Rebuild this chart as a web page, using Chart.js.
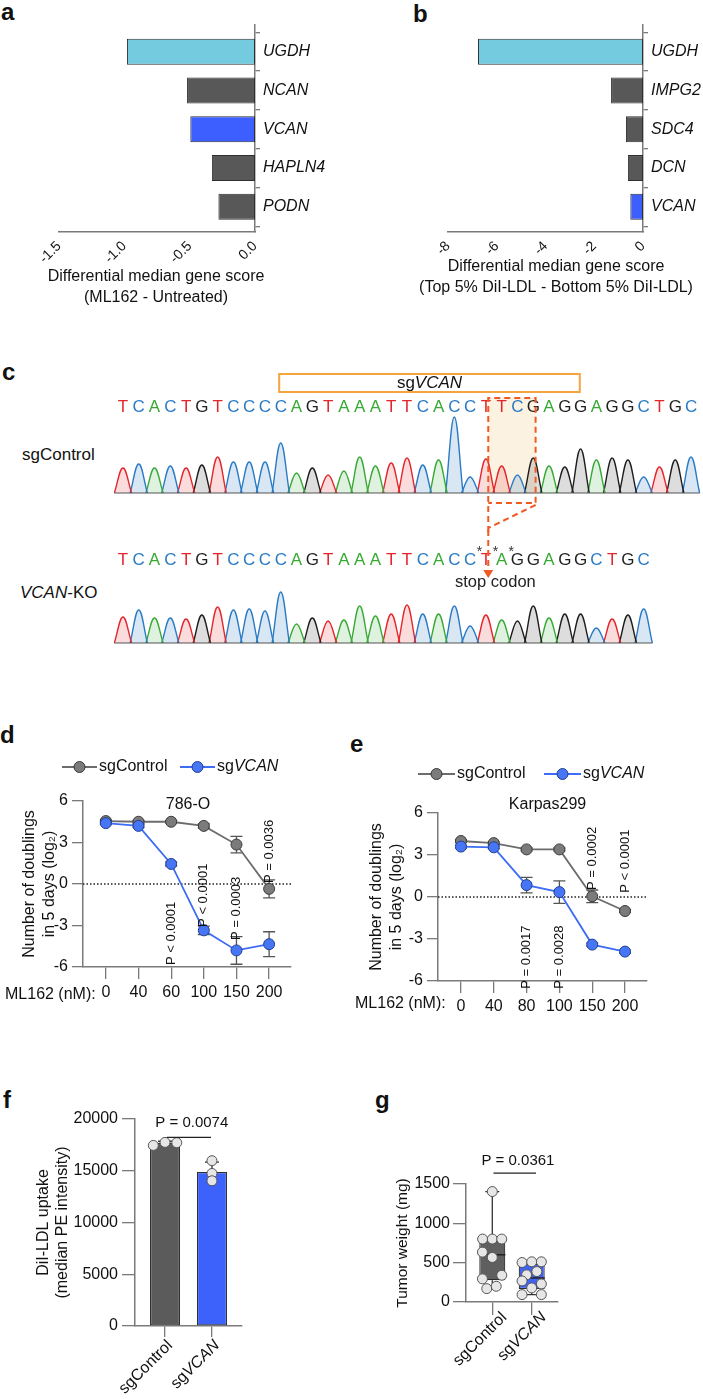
<!DOCTYPE html>
<html>
<head>
<meta charset="utf-8">
<title>VCAN figure</title>
<script src="https://cdn.jsdelivr.net/npm/chart.js@4.4.1/dist/chart.umd.min.js"></script>
<style>
  html, body { margin: 0; padding: 0; background: #fff; }
  body { position: relative; width: 703px; height: 1399px; overflow: hidden; font-family: "Liberation Sans", Arial, sans-serif; color: #111; }
  canvas { position: absolute; }
  .tag { position: absolute; font-weight: bold; font-size: 24px; line-height: 24px; }
  .side { position: absolute; font-size: 17px; line-height: 20px; white-space: nowrap; }
</style>
</head>
<body>
<div class="tag" style="left:1px;top:0px">a</div>
<div class="tag" style="left:413px;top:2px">b</div>
<div class="tag" style="left:2px;top:360px">c</div>
<div class="tag" style="left:0px;top:723px">d</div>
<div class="tag" style="left:350px;top:732px">e</div>
<div class="tag" style="left:3px;top:1088px">f</div>
<div class="tag" style="left:375px;top:1088px">g</div>
<div class="side" style="left:22px;top:445px">sgControl</div>
<div class="side" style="left:20px;top:583px"><i>VCAN</i>-KO</div>

<canvas id="chartA" width="350" height="310" style="left:0;top:0"></canvas>
<canvas id="chartB" width="353" height="310" style="left:350px;top:0"></canvas>
<canvas id="chartC1" width="603" height="172" style="left:100px;top:360px"></canvas>
<canvas id="chartC2" width="603" height="120" style="left:100px;top:530px"></canvas>
<canvas id="chartD" width="350" height="280" style="left:0;top:740px"></canvas>
<canvas id="chartE" width="353" height="280" style="left:350px;top:740px"></canvas>
<canvas id="chartF" width="350" height="319" style="left:0;top:1080px"></canvas>
<canvas id="chartG" width="353" height="319" style="left:350px;top:1080px"></canvas>

<script>
const genesA = ["UGDH", "NCAN", "VCAN", "HAPLN4", "PODN"];
const scoreA = [-0.98, -0.52, -0.495, -0.33, -0.28];
const genesB = ["UGDH", "IMPG2", "SDC4", "DCN", "VCAN"];
const scoreB = [-6.77, -1.31, -0.70, -0.62, -0.52];

const seqCtrl = "TCACTGTCCCCAGTAAATTCACCTTCGAGGAGGCTGC";
const peakCtrl = [25, 29, 25, 27, 25, 28, 36, 31, 31, 31, 50, 20, 25, 18, 22, 36, 27, 30, 35, 28,
                  33, 76, 16, 34, 27, 18, 35, 27, 26, 44, 33, 35, 33, 16, 26, 33, 36];
const seqKO = "TCACTGTCCCCAGTAAATTCACCTAGGAGGCTGC";
const peakKO = [26, 33, 25, 25, 24, 28, 36, 33, 34, 32, 51, 19, 25, 22, 23, 37, 27, 29, 38, 29,
                29, 37, 17, 28, 23, 22, 37, 25, 29, 29, 15, 24, 28, 34];

const dosesD = ["0", "40", "60", "100", "150", "200"];
const ctrlD = [4.55, 4.5, 4.5, 4.2, 2.85, -0.35];
const ctrlSdD = [0.1, 0.1, 0.1, 0.15, 0.6, 0.65];
const vcanD = [4.4, 4.2, 1.45, -3.35, -4.8, -4.35];
const vcanSdD = [0.1, 0.1, 0.15, 0.3, 1.0, 0.9];
const pTextD = ["", "", "P < 0.0001", "P < 0.0001", "P = 0.0003", "P = 0.0036"];

const dosesE = ["0", "40", "80", "100", "150", "200"];
const ctrlE = [4.0, 3.85, 3.4, 3.4, 0.05, -1.0];
const ctrlSdE = [0.1, 0.1, 0.1, 0.1, 0.45, 0.1];
const vcanE = [3.6, 3.55, 0.85, 0.35, -3.4, -3.9];
const vcanSdE = [0.1, 0.1, 0.55, 0.8, 0.1, 0.1];
const pTextE = ["", "", "P = 0.0017", "P = 0.0028", "P = 0.0002", "P < 0.0001"];

const groups = ["sgControl", "sgVCAN"];
const uptakeMean = [17700, 14870];
const uptakeSd = [150, 970];
const uptakeCtrl = [17450, 17740, 17710];
const uptakeVcan = [15970, 14740, 14030];
const pUptake = "P = 0.0074";

const weightCtrl = [1404, 800, 800, 800, 634, 566, 340, 294, 170, 200];
const weightVcan = [502, 511, 511, 387, 345, 268, 230, 179, 94, 94];
const weightBox = [[170, 277, 600, 805, 1404], [94, 166, 306, 485, 511]];
const pWeight = "P = 0.0361";

const FONT = '"Liberation Sans", Arial, Helvetica, sans-serif';
const AXIS = "#7a7a7a";
Chart.defaults.font.family = FONT;
Chart.defaults.font.size = 16;
Chart.defaults.color = "#111";
Chart.defaults.animation = false;
Chart.defaults.responsive = false;
Chart.defaults.events = [];
Chart.defaults.plugins.legend.display = false;
Chart.defaults.plugins.tooltip.enabled = false;

function font(size, italic) {
  return (italic ? "italic " : "") + size + "px " + FONT;
}
function parts(label) {
  if (label.startsWith("sg") && label !== "sgControl") return [["sg", false], [label.slice(2), true]];
  return [[label, false]];
}
function drawParts(ctx, ps, x, y, size, align) {
  let w = 0;
  ps.forEach(p => { ctx.font = font(size, p[1]); w += ctx.measureText(p[0]).width; });
  let cx = align === "center" ? x - w / 2 : align === "right" ? x - w : x;
  ctx.textAlign = "left";
  ps.forEach(p => { ctx.font = font(size, p[1]); ctx.fillText(p[0], cx, y); cx += ctx.measureText(p[0]).width; });
}
const border = { color: AXIS, width: 1.5 };

// a, b
function geneChart(id, genes, scores, fills, xMin, xStep, fmt, title, titleX, titleDy, padLeft, yW) {
  return new Chart(document.getElementById(id), {
    type: "bar",
    data: { datasets: [{
      data: scores.map((v, i) => ({ x: v, y: i })),
      backgroundColor: fills, borderColor: "#2f2f2f", borderWidth: 1, borderSkipped: false,
      barPercentage: 0.67, categoryPercentage: 1
    }] },
    options: {
      indexAxis: "y",
      layout: { padding: { left: padLeft, top: 25, right: 0, bottom: 0 } },
      scales: {
        x: {
          type: "linear", min: xMin, max: 0,
          ticks: { stepSize: xStep, callback: fmt, minRotation: 45, maxRotation: 45, padding: 6, font: { size: 14 } },
          grid: { display: false, drawTicks: false }, border,
          afterFit: s => { s.height = 78; }
        },
        y: {
          type: "linear", position: "right", reverse: true, min: -0.69, max: 4.65, offset: false,
          ticks: { stepSize: 1, includeBounds: false, autoSkip: false, callback: v => genes[v], font: { style: "italic", size: 16 }, padding: 3 },
          grid: { drawOnChartArea: false, tickLength: 5, color: AXIS, lineWidth: 1.3 }, border,
          afterFit: s => { s.width = yW; }
        }
      }
    },
    plugins: [{
      id: "geneTitle",
      afterDraw(c) {
        const { ctx, chartArea: a } = c;
        ctx.save();
        ctx.fillStyle = "#111"; ctx.font = font(16); ctx.textAlign = "center"; ctx.textBaseline = "middle";
        title.forEach((t, k) => ctx.fillText(t, titleX, a.bottom + titleDy[k]));
        ctx.restore();
      }
    }]
  });
}
const cyan = "#74cbe0", grey = "#585858", blue = "#3d5fff";
geneChart("chartA", genesA, scoreA, [cyan, grey, blue, grey, grey], -1.5, 0.5, v => v.toFixed(1),
  ["Differential median gene score", "(ML162 - Untreated)"], 156, [45, 66], 59, 95);
geneChart("chartB", genesB, scoreB, [cyan, grey, grey, grey, blue], -8, 2, v => String(v),
  ["Differential median gene score", "(Top 5% DiI-LDL - Bottom 5% DiI-LDL)"], 206, [35, 56], 98, 60);

// c
const BASE_LINE = { T: "#e3262b", C: "#2a7bc4", A: "#38a935", G: "#1e1e1e" };
const BASE_FILL = { T: "rgba(227,38,43,0.16)", C: "rgba(42,123,196,0.18)", A: "rgba(56,169,53,0.16)", G: "rgba(30,30,30,0.15)" };
const ORANGE = "#f05a22";

function chromChart(id, seq, peaks, pad, letterDy, before, after) {
  const datasets = seq.split("").map((b, i) => ({
    data: [{ x: i - 0.55, y: 0 }, { x: i, y: peaks[i] }, { x: i + 0.55, y: 0 }],
    borderColor: BASE_LINE[b], backgroundColor: BASE_FILL[b],
    borderWidth: 1.4, pointRadius: 0, fill: "origin", tension: 0.4
  }));
  return new Chart(document.getElementById(id), {
    type: "line",
    data: { datasets },
    options: {
      layout: { padding: pad },
      scales: {
        x: { type: "linear", display: false, min: -0.6, max: 36.6 },
        y: { display: false, min: 0, max: 80 }
      }
    },
    plugins: [{
      id: "seq",
      beforeDatasetsDraw(c) { if (before) before(c); },
      afterDatasetsDraw(c) {
        const { ctx, chartArea: a, scales: { x, y } } = c;
        ctx.save();
        ctx.strokeStyle = "#555"; ctx.lineWidth = 1.2;
        ctx.beginPath();
        ctx.moveTo(x.getPixelForValue(-0.55), y.getPixelForValue(0));
        ctx.lineTo(x.getPixelForValue(seq.length - 0.45), y.getPixelForValue(0));
        ctx.stroke();
        ctx.font = font(17); ctx.textAlign = "center"; ctx.textBaseline = "middle";
        seq.split("").forEach((b, i) => {
          ctx.fillStyle = BASE_LINE[b];
          ctx.fillText(b, x.getPixelForValue(i), a.top + letterDy);
        });
        ctx.restore();
        if (after) after(c);
      }
    }]
  });
}

chromChart("chartC1", seqCtrl, peakCtrl, { left: 13.5, right: 2.5, top: 53, bottom: 39 }, -6,
  c => {
    const { ctx, scales: { x, y } } = c;
    const xl = x.getPixelForValue(23.15), xr = x.getPixelForValue(26.15);
    ctx.save();
    ctx.fillStyle = "#fcf2e2";
    ctx.fillRect(xl, 38, xr - xl, y.getPixelForValue(0) - 38);
    ctx.restore();
  },
  c => {
    const { ctx, scales: { x } } = c;
    const xl = x.getPixelForValue(23.15), xr = x.getPixelForValue(26.15);
    const b1 = x.getPixelForValue(9.9), b2 = x.getPixelForValue(28.95);
    ctx.save();
    ctx.strokeStyle = "#f4a540"; ctx.lineWidth = 2;
    ctx.strokeRect(b1, 14, b2 - b1, 18);
    ctx.fillStyle = "#111"; ctx.textBaseline = "middle";
    drawParts(ctx, parts("sgVCAN"), (b1 + b2) / 2, 23.5, 17, "center");
    ctx.strokeStyle = ORANGE; ctx.lineWidth = 2; ctx.setLineDash([6, 4]);
    ctx.beginPath();
    ctx.moveTo(xl, c.height); ctx.lineTo(xl, 38); ctx.lineTo(xr, 38); ctx.lineTo(xr, 143); ctx.lineTo(xl, 143);
    ctx.moveTo(xr, 145); ctx.lineTo(xl, 168);
    ctx.stroke();
    ctx.restore();
  });

chromChart("chartC2", seqKO, peakKO, { left: 13.5, right: 2.5, top: 33, bottom: 7 }, -3, null,
  c => {
    const { ctx, chartArea: a, scales: { x } } = c;
    const xl = x.getPixelForValue(23.15);
    ctx.save();
    ctx.fillStyle = "#333"; ctx.font = font(14); ctx.textAlign = "center"; ctx.textBaseline = "alphabetic";
    [23, 24, 25].forEach(i => ctx.fillText("*", x.getPixelForValue(i - 0.4), a.top - 7));
    ctx.strokeStyle = ORANGE; ctx.lineWidth = 2; ctx.setLineDash([6, 4]);
    ctx.beginPath(); ctx.moveTo(xl, 0); ctx.lineTo(xl, a.top + 8); ctx.stroke();
    ctx.setLineDash([]); ctx.fillStyle = ORANGE;
    ctx.beginPath(); ctx.moveTo(xl - 5, a.top + 7); ctx.lineTo(xl + 5, a.top + 7); ctx.lineTo(xl, a.top + 15); ctx.closePath(); ctx.fill();
    ctx.fillStyle = "#222"; ctx.font = font(16.5); ctx.textBaseline = "middle";
    ctx.fillText("stop codon", x.getPixelForValue(23.6), a.top + 19);
    ctx.restore();
  });

// d, e
function growthDecor(cfg) {
  return {
    id: "growthDecor",
    beforeDatasetsDraw(c) {
      const { ctx, chartArea: a, scales: { x, y } } = c;
      ctx.save();
      ctx.strokeStyle = "#222"; ctx.lineWidth = 1.3; ctx.setLineDash([1.5, 2]);
      const y0 = y.getPixelForValue(0);
      ctx.beginPath(); ctx.moveTo(a.left, y0); ctx.lineTo(a.right, y0); ctx.stroke();
      ctx.setLineDash([]); ctx.strokeStyle = "#555"; ctx.lineWidth = 1.3;
      c.data.datasets.forEach(ds => ds.data.forEach((p, i) => {
        const px = x.getPixelForValue(p.x);
        const t = y.getPixelForValue(p.y + ds.sd[i]), b = y.getPixelForValue(p.y - ds.sd[i]);
        ctx.beginPath();
        ctx.moveTo(px, t); ctx.lineTo(px, b);
        ctx.moveTo(px - 6, t); ctx.lineTo(px + 6, t);
        ctx.moveTo(px - 6, b); ctx.lineTo(px + 6, b);
        ctx.stroke();
      }));
      ctx.restore();
    },
    afterDatasetsDraw(c) {
      const { ctx, chartArea: a, scales: { x, y } } = c;
      ctx.save();
      ctx.fillStyle = "#111"; ctx.textBaseline = "middle";
      ctx.font = font(16); ctx.textAlign = "center";
      ctx.fillText(cfg.title, (a.left + a.right) / 2 + cfg.titleDx, a.top + cfg.titleDy);
      c.data.datasets.forEach((ds, k) => {
        const lx = a.left + cfg.legendX[k], ly = a.top + cfg.legendDy;
        ctx.strokeStyle = ds.borderColor; ctx.lineWidth = 1.8;
        ctx.beginPath(); ctx.moveTo(lx, ly); ctx.lineTo(lx + cfg.legendLen, ly); ctx.stroke();
        ctx.beginPath(); ctx.arc(lx + cfg.legendLen / 2, ly, 5.5, 0, Math.PI * 2);
        ctx.fillStyle = ds.pointBackgroundColor; ctx.fill();
        ctx.strokeStyle = ds.pointBorderColor; ctx.lineWidth = 1; ctx.stroke();
        ctx.fillStyle = "#111";
        drawParts(ctx, parts(ds.label), lx + cfg.legendLen + 2, ly, 16, "left");
      });
      ctx.font = font(16); ctx.textAlign = "left";
      ctx.fillText("ML162 (nM):", 5, a.bottom + cfg.mlDy);
      ctx.font = font(13);
      cfg.pText.forEach((t, i) => {
        if (!t) return;
        ctx.save();
        ctx.translate(x.getPixelForValue(i), y.getPixelForValue(cfg.pStart[i]));
        ctx.rotate(-Math.PI / 2);
        ctx.textAlign = "left"; ctx.fillText(t, 0, 0);
        ctx.restore();
      });
      ctx.restore();
    }
  };
}

function growthChart(id, doses, ctrl, ctrlSd, vcan, vcanSd, cfg) {
  return new Chart(document.getElementById(id), {
    type: "line",
    data: { datasets: [
      { label: "sgControl", data: ctrl.map((v, i) => ({ x: i, y: v })), sd: ctrlSd,
        borderColor: "#6c6c6c", pointBackgroundColor: "#7b7b7b", pointBorderColor: "#3a3a3a",
        borderWidth: 1.8, pointRadius: 5.5, pointBorderWidth: 1, order: 2 },
      { label: "sgVCAN", data: vcan.map((v, i) => ({ x: i, y: v })), sd: vcanSd,
        borderColor: "#3d6cf5", pointBackgroundColor: "#4676f6", pointBorderColor: "#23408f",
        borderWidth: 1.8, pointRadius: 5.5, pointBorderWidth: 1, order: 1 }
    ] },
    options: {
      layout: { padding: { left: 0, top: cfg.top, right: cfg.right, bottom: 0 } },
      scales: {
        x: {
          type: "linear", min: -0.7, max: 5.67,
          ticks: { stepSize: 1, includeBounds: false, autoSkip: false, maxRotation: 0, callback: v => doses[v], padding: 4 },
          grid: { drawOnChartArea: false, tickLength: 12, color: AXIS, lineWidth: 1.3 }, border,
          afterFit: s => { s.height = cfg.xh; }
        },
        y: {
          min: -6, max: 6,
          ticks: { stepSize: 3, padding: 4 },
          grid: { drawOnChartArea: false, tickLength: 11, color: AXIS, lineWidth: 1.3 }, border,
          title: { display: true, text: ["Number of doublings", "in 5 days (log\u2082)"], padding: { top: cfg.titlePad } },
          afterFit: s => { s.width = cfg.yw; }
        }
      }
    },
    plugins: [growthDecor(cfg)]
  });
}

growthChart("chartD", dosesD, ctrlD, ctrlSdD, vcanD, vcanSdD, {
  top: 61, right: 59, xh: 53, yw: 83, titlePad: 20.4,
  title: "786-O", titleDx: 1, titleDy: 4,
  legendX: [-21, 97], legendLen: 35, legendDy: -34, mlDy: 28,
  pText: pTextD, pStart: [0, 0, -5.86, -3.1, -4.05, 0.07]
});
growthChart("chartE", dosesE, ctrlE, ctrlSdE, vcanE, vcanSdE, {
  top: 73, right: 56, xh: 39, yw: 88, titlePad: 17.4,
  title: "Karpas299", titleDx: 5, titleDy: -8,
  legendX: [-20, 106], legendLen: 37, legendDy: -39, mlDy: 23,
  pText: pTextE, pStart: [0, 0, -6.55, -6.55, 0.5, 0.3]
});

// f
const jitterF = [[-0.25, 0, 0.25], [0, 0, 0]];
new Chart(document.getElementById("chartF"), {
  type: "bar",
  data: { datasets: [
    { type: "bar", data: uptakeMean.map((v, i) => ({ x: i, y: v })),
      backgroundColor: ["#5b5b5b", "#3d62fb"], borderColor: "#2e2e2e", borderWidth: 1.2, borderSkipped: false,
      barPercentage: 0.64, categoryPercentage: 1, order: 2 },
    { type: "scatter", clip: false,
      data: uptakeCtrl.map((v, k) => ({ x: jitterF[0][k], y: v })).concat(uptakeVcan.map((v, k) => ({ x: 1 + jitterF[1][k], y: v }))),
      pointRadius: 5, pointBackgroundColor: "#e6e6e6", pointBorderColor: "#555", pointBorderWidth: 1, order: 1 }
  ] },
  options: {
    layout: { padding: { left: 0, top: 39, right: 108, bottom: 0 } },
    scales: {
      x: {
        type: "linear", min: -0.64, max: 1.64, offset: false,
        ticks: { display: false, stepSize: 1, includeBounds: false },
        grid: { drawOnChartArea: false, tickLength: 11, color: AXIS, lineWidth: 1.3, offset: false }, border,
        afterFit: s => { s.height = 73; }
      },
      y: {
        min: 0, max: 20000,
        ticks: { stepSize: 5000, padding: 4, callback: v => String(v) },
        grid: { drawOnChartArea: false, tickLength: 13, color: AXIS, lineWidth: 1.3 }, border,
        title: { display: true, text: ["DiI-LDL uptake", "(median PE intensity)"], padding: { top: 34 } },
        afterFit: s => { s.width = 135; }
      }
    }
  },
  plugins: [{
    id: "fDecor",
    afterDatasetDraw(c, args) {
      if (args.index !== 0) return;
      const { ctx, scales: { x, y } } = c;
      ctx.save(); ctx.strokeStyle = "#333"; ctx.lineWidth = 1.3;
      uptakeMean.forEach((m, i) => {
        const px = x.getPixelForValue(i), t = y.getPixelForValue(m + uptakeSd[i]), b = y.getPixelForValue(m);
        ctx.beginPath(); ctx.moveTo(px, b); ctx.lineTo(px, t); ctx.moveTo(px - 7, t); ctx.lineTo(px + 7, t); ctx.stroke();
      });
      ctx.restore();
    },
    afterDatasetsDraw(c) {
      const { ctx, chartArea: a, scales: { x, y } } = c;
      ctx.save();
      ctx.strokeStyle = "#222"; ctx.lineWidth = 1.3;
      const ly = y.getPixelForValue(18230);
      ctx.beginPath(); ctx.moveTo(x.getPixelForValue(0.04), ly); ctx.lineTo(x.getPixelForValue(0.98), ly); ctx.stroke();
      ctx.fillStyle = "#111"; ctx.font = font(15); ctx.textAlign = "center"; ctx.textBaseline = "middle";
      ctx.fillText(pUptake, x.getPixelForValue(0.57), y.getPixelForValue(19580));
      groups.forEach((g, i) => {
        ctx.save();
        ctx.translate(x.getPixelForValue(i) + 5, a.bottom + 17);
        ctx.rotate(-Math.PI / 4);
        ctx.textBaseline = "middle";
        drawParts(ctx, parts(g), 0, 0, 16, "right");
        ctx.restore();
      });
      ctx.restore();
    }
  }]
});

// g
const jitterG = [[0, -0.245, 0, 0.24, -0.25, 0, 0.24, -0.25, -0.14, 0.1],
                 [-0.245, 0, 0.245, 0.13, -0.13, -0.245, 0.245, 0, -0.245, 0.245]];
new Chart(document.getElementById("chartG"), {
  type: "bar",
  data: { datasets: [
    { type: "bar", data: weightBox.map((b, i) => ({ x: i, y: [b[1], b[3]] })),
      backgroundColor: ["#5f5f5f", "#3f63f5"], borderColor: "#2e2e2e", borderWidth: 1.2, borderSkipped: false,
      barPercentage: 0.66, categoryPercentage: 1, order: 2 },
    { type: "scatter", clip: false,
      data: weightCtrl.map((v, k) => ({ x: jitterG[0][k], y: v })).concat(weightVcan.map((v, k) => ({ x: 1 + jitterG[1][k], y: v }))),
      pointRadius: 5, pointBackgroundColor: "#e6e6e6", pointBorderColor: "#555", pointBorderWidth: 1, order: 1 }
  ] },
  options: {
    layout: { padding: { left: 0, top: 104, right: 145, bottom: 0 } },
    scales: {
      x: {
        type: "linear", min: -0.667, max: 1.667, offset: false,
        ticks: { display: false, stepSize: 1, includeBounds: false },
        grid: { drawOnChartArea: false, tickLength: 13, color: AXIS, lineWidth: 1.3, offset: false }, border,
        afterFit: s => { s.height = 97; }
      },
      y: {
        min: 0, max: 1500,
        ticks: { stepSize: 500, padding: 3, callback: v => String(v) },
        grid: { drawOnChartArea: false, tickLength: 13, color: AXIS, lineWidth: 1.3 }, border,
        title: { display: true, text: "Tumor weight (mg)", font: { size: 15.5 }, padding: { top: 43.5 } },
        afterFit: s => { s.width = 116; }
      }
    }
  },
  plugins: [{
    id: "gDecor",
    afterDatasetDraw(c, args) {
      if (args.index !== 0) return;
      const { ctx, scales: { x, y } } = c;
      ctx.save(); ctx.strokeStyle = "#333"; ctx.lineWidth = 1.3;
      weightBox.forEach((b, i) => {
        const px = x.getPixelForValue(i);
        const half = (x.getPixelForValue(1) - x.getPixelForValue(0)) * 0.33;
        ctx.beginPath();
        ctx.moveTo(px, y.getPixelForValue(b[3])); ctx.lineTo(px, y.getPixelForValue(b[4]));
        ctx.moveTo(px - 7, y.getPixelForValue(b[4])); ctx.lineTo(px + 7, y.getPixelForValue(b[4]));
        ctx.moveTo(px, y.getPixelForValue(b[1])); ctx.lineTo(px, y.getPixelForValue(b[0]));
        ctx.moveTo(px - 7, y.getPixelForValue(b[0])); ctx.lineTo(px + 7, y.getPixelForValue(b[0]));
        ctx.stroke();
        ctx.strokeStyle = "#222"; ctx.lineWidth = 1.5;
        ctx.beginPath(); ctx.moveTo(px - half, y.getPixelForValue(b[2])); ctx.lineTo(px + half, y.getPixelForValue(b[2])); ctx.stroke();
        ctx.strokeStyle = "#333"; ctx.lineWidth = 1.3;
      });
      ctx.restore();
    },
    afterDatasetsDraw(c) {
      const { ctx, chartArea: a, scales: { x, y } } = c;
      ctx.save();
      ctx.strokeStyle = "#222"; ctx.lineWidth = 1.3;
      const ly = y.getPixelForValue(1638);
      ctx.beginPath(); ctx.moveTo(x.getPixelForValue(0.03), ly); ctx.lineTo(x.getPixelForValue(1.11), ly); ctx.stroke();
      ctx.fillStyle = "#111"; ctx.font = font(15); ctx.textAlign = "center"; ctx.textBaseline = "middle";
      ctx.fillText(pWeight, x.getPixelForValue(0.65), y.getPixelForValue(1796));
      groups.forEach((g, i) => {
        ctx.save();
        ctx.translate(x.getPixelForValue(i) + 12, a.bottom + 13);
        ctx.rotate(-Math.PI / 4);
        ctx.textBaseline = "middle";
        drawParts(ctx, parts(g), 0, 0, 16, "right");
        ctx.restore();
      });
      ctx.restore();
    }
  }]
});
</script>
</body>
</html>
